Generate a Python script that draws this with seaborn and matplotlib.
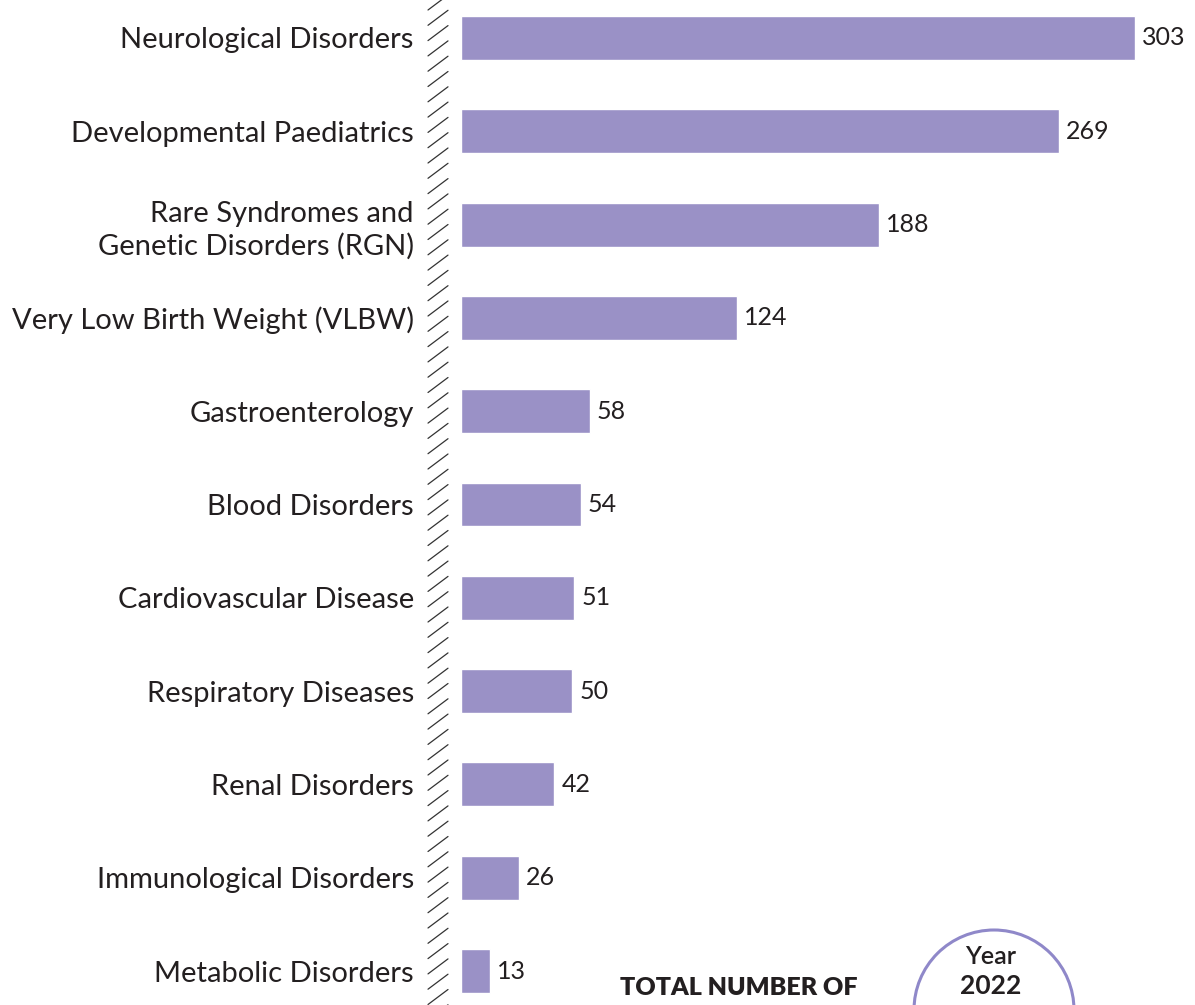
import matplotlib
matplotlib.use("Agg")
import matplotlib.pyplot as plt
import seaborn as sns
import pandas as pd
from matplotlib.lines import Line2D
from matplotlib.patches import Ellipse

# chart data
categories = [
    "Neurological Disorders",
    "Developmental Paediatrics",
    "Rare Syndromes and\nGenetic Disorders (RGN)",
    "Very Low Birth Weight (VLBW)",
    "Gastroenterology",
    "Blood Disorders",
    "Cardiovascular Disease",
    "Respiratory Diseases",
    "Renal Disorders",
    "Immunological Disorders",
    "Metabolic Disorders",
]
counts = [303, 269, 188, 124, 58, 54, 51, 50, 42, 26, 13]
footer_title = "TOTAL NUMBER OF"
year_label = "Year"
year_value = "2022"

bar_color = "#9a91c6"
ring_color = "#8f88c9"
text_color = "#231f20"

sns.set_style("white")
plt.rcParams['font.family'] = ['Lato', 'DejaVu Sans']

df = pd.DataFrame({"category": categories, "count": counts})

W, H = 1195, 1005
fig = plt.figure(figsize=(W / 100, H / 100), dpi=100)
ax = fig.add_axes([461 / W, 0, 1 - 461 / W, 1])

sns.barplot(data=df, x="count", y="category", order=categories,
            color=bar_color, saturation=1, width=0.47, ax=ax)

ax.set_xlim(0, 330)
ax.set_ylim(10.364, -0.407)
ax.set_xlabel("")
ax.set_ylabel("")
ax.set_xticks([])
sns.despine(ax=ax, left=True, bottom=True)
ax.tick_params(axis="y", length=0, pad=34, labelsize=21, labelcolor=text_color)
for lab in ax.get_yticklabels():
    lab.set_multialignment("right")
    lab.set_linespacing(1.3)

for cont in ax.containers:
    ax.bar_label(cont, padding=5, fontsize=18, color=text_color)

# hatched divider between labels and bars
y = -5
while y < H + 15:
    fig.add_artist(Line2D([428 / W, 448 / W], [1 - (y + 15) / H, 1 - y / H],
                          color="#333333", lw=0.9))
    y += 15.3

# footer text and the year badge
fig.text(739 / W, 1 - 988 / H, footer_title, ha="center", va="center",
         fontsize=18, fontweight="heavy", color=text_color)
fig.add_artist(Ellipse((994 / W, 1 - 1010 / H), 160 / W, 160 / H,
                       fill=False, edgecolor=ring_color, lw=2.2))
fig.text(991 / W, 1 - 956 / H, year_label, ha="center", va="center",
         fontsize=18, fontweight="semibold", color=text_color)
fig.text(991 / W, 1 - 986 / H, year_value, ha="center", va="center",
         fontsize=19, fontweight="bold", color=text_color)

fig.savefig("out.png", dpi=100)
